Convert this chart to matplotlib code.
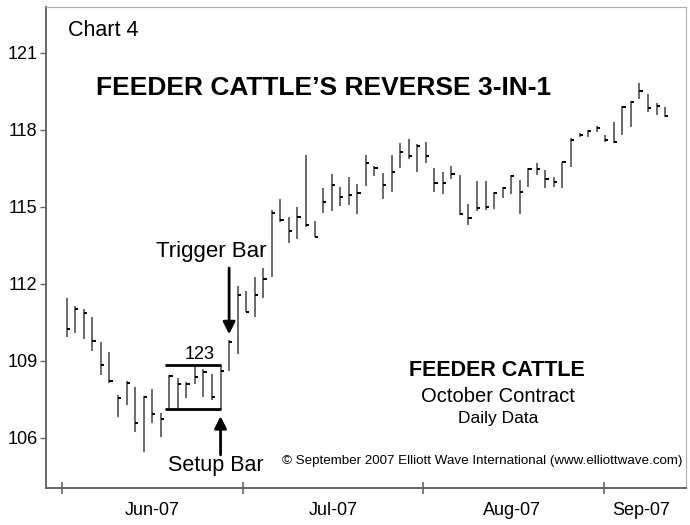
import matplotlib
matplotlib.use("Agg")
import matplotlib.pyplot as plt
import numpy as np

plt.rcParams['font.family'] = ['Liberation Sans', 'DejaVu Sans']

# ---- data (daily HLC, Feeder Cattle Oct 2007 contract) ----
highs = [111.44, 111.16, 111.02, 110.73, 109.73, 109.34, 107.68, 108.23, 107.98, 107.64,
         107.90, 106.96, 108.46, 108.33, 108.17, 108.81, 108.69, 108.50, 108.85, 109.82,
         111.92, 111.73, 112.29, 112.61, 114.88, 115.30, 114.62, 114.99, 117.03, 114.46,
         115.73, 116.30, 115.79, 116.16, 115.90, 117.03, 116.60, 116.31, 117.03, 117.51,
         117.65, 117.45, 117.54, 116.51, 116.38, 116.60, 116.25, 115.12, 116.01, 116.01,
         115.60, 115.79, 116.25, 116.05, 116.51, 116.70, 116.44, 116.18, 116.77, 117.68,
         117.87, 118.00, 118.16, 117.81, 118.32, 118.94, 119.14, 119.82, 119.40, 119.04,
         118.91]
lows = [109.95, 110.10, 109.85, 109.39, 108.46, 108.13, 106.83, 107.29, 106.25, 105.47,
        106.57, 106.05, 107.16, 107.16, 107.55, 108.09, 107.61, 107.48, 107.13, 108.61,
        109.27, 110.92, 110.73, 111.44, 112.29, 114.43, 113.59, 113.74, 114.21, 113.82,
        114.78, 114.86, 115.05, 115.08, 114.72, 115.83, 116.21, 115.31, 115.60, 116.53,
        116.86, 116.38, 116.73, 115.58, 115.51, 116.08, 114.69, 114.30, 114.85, 114.88,
        114.92, 115.34, 115.51, 114.72, 115.79, 116.25, 115.73, 115.79, 115.73, 116.57,
        117.74, 117.74, 117.93, 117.54, 117.48, 117.81, 118.13, 119.20, 118.71, 118.58,
        118.52]
closes = [110.25, 111.03, 110.88, 109.78, 108.85, 108.20, 107.55, 108.13, 106.60, 107.59,
          106.94, 106.73, 108.42, 108.09, 108.09, 108.39, 108.56, 107.61, 108.59, 109.75,
          111.57, 110.92, 111.57, 112.18, 114.75, 114.49, 114.07, 114.62, 114.30, 113.84,
          115.18, 115.85, 115.40, 115.47, 115.53, 116.73, 116.51, 115.86, 116.35, 117.13,
          117.00, 117.39, 117.00, 115.95, 115.95, 116.27, 114.73, 114.58, 114.97, 115.01,
          115.56, 115.73, 116.21, 115.57, 116.47, 116.47, 116.08, 115.99, 116.74, 117.61,
          117.81, 117.96, 118.07, 117.61, 117.54, 118.91, 119.10, 119.53, 118.85, 118.94,
          118.55]
month_labels = ['Jun-07', 'Jul-07', 'Aug-07', 'Sep-07']
y_ticks = [106, 109, 112, 115, 118, 121]
setup_index = 18      # setup bar (the 3-in-1 bar)
trigger_index = 19    # trigger bar
box_first_index = 12  # first bar engulfed by the setup bar

# ---- figure ----
W, H = 690, 525
fig = plt.figure(figsize=(W / 100, H / 100), dpi=100)
ax = fig.add_axes([46 / W, 1 - 488 / H, (686 - 46) / W, (488 - 7) / H])

x = np.arange(len(highs))
ax.vlines(x, lows, highs, color='#6a6a6a', lw=1.4, zorder=2)
ax.hlines(closes, x, x + 0.38, color='black', lw=1.4, zorder=3)

ax.set_xlim(-2.42, 72.45)
ax.set_ylim(104.05, 122.79)

# axes styling
for s in ['top', 'right']:
    ax.spines[s].set_color('#b0b0b0')
    ax.spines[s].set_linewidth(0.8)
for s in ['left', 'bottom']:
    ax.spines[s].set_color('#666666')
    ax.spines[s].set_linewidth(1.4)

ax.set_yticks(y_ticks)
ax.set_yticklabels([str(v) for v in y_ticks], fontsize=13)
ax.tick_params(axis='y', direction='out', length=4, width=1, color='#666666', pad=2)

month_start_ticks = [-0.55, 20.6, 41.7, 62.8]
month_label_pos = [9.98, 31.15, 52.08, 67.17]
ax.set_xticks(month_start_ticks)
ax.set_xticklabels([])
ax.set_xticks(month_label_pos, minor=True)
ax.set_xticklabels(month_labels, minor=True, fontsize=13)
ax.tick_params(axis='x', which='major', direction='inout', length=9, width=1.2, color='#666666')
ax.tick_params(axis='x', which='minor', length=0, pad=10)

# setup box (range of setup bar over the engulfed bars)
ax.hlines([highs[setup_index], lows[setup_index]], box_first_index - 0.5, setup_index + 0.05,
          color='black', lw=2.0, zorder=4)
ax.text((box_first_index + setup_index) / 2 + 0.6, highs[setup_index] + 0.08, '123',
        ha='center', va='bottom', fontsize=13)

# arrows
ax.annotate('', xy=(trigger_index, highs[trigger_index] + 0.22), xytext=(trigger_index, 112.62),
            arrowprops=dict(arrowstyle='-|>', color='black', lw=2, mutation_scale=18, shrinkA=0, shrinkB=0))
ax.annotate('', xy=(setup_index, lows[setup_index] - 0.28), xytext=(setup_index, 105.34),
            arrowprops=dict(arrowstyle='-|>', color='black', lw=2, mutation_scale=18, shrinkA=0, shrinkB=0))

def ftext(px, py, s, **kw):
    fig.text(px / W, 1 - py / H, s, **kw)

ftext(68, 30, 'Chart 4', fontsize=15.5, ha='left', va='center')
ftext(324, 88, 'FEEDER CATTLE\u2019S REVERSE 3-IN-1', fontsize=19, fontweight='bold',
      ha='center', va='center')
ftext(211, 252, 'Trigger Bar', fontsize=16, ha='center', va='center')
ftext(216, 466, 'Setup Bar', fontsize=15.5, ha='center', va='center')
ftext(497, 371, 'FEEDER CATTLE', fontsize=15.5, fontweight='bold', ha='center', va='center')
ftext(498, 397, 'October Contract', fontsize=14.5, ha='center', va='center')
ftext(498, 418, 'Daily Data', fontsize=12.5, ha='center', va='center')
ftext(683, 461, '\u00a9 September 2007 Elliott Wave International (www.elliottwave.com)',
      fontsize=9.6, ha='right', va='center')

fig.savefig('out.png', dpi=100)
